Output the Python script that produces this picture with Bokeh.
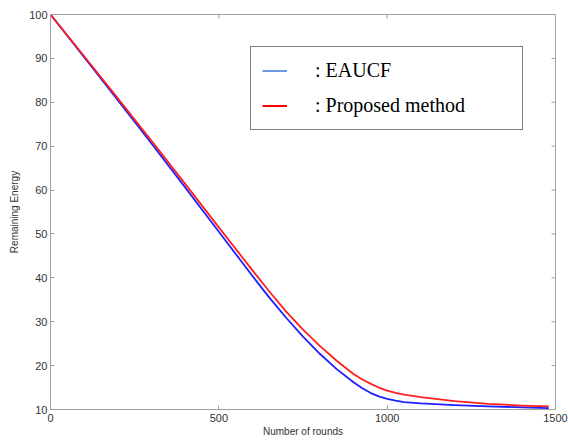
import math
from bokeh.plotting import figure
from bokeh.models import Legend, LegendItem, FixedTicker, Range1d
from bokeh.embed import file_html
from bokeh.resources import INLINE

rounds = [0, 100, 200, 300, 400, 500, 600, 650, 700, 750, 800, 850, 900, 925, 950, 975,
          1000, 1025, 1050, 1100, 1200, 1300, 1400, 1480]
eaucf = [100, 90.3, 80.5, 70.6, 60.6, 50.5, 40.4, 35.5, 30.9, 26.6, 22.7, 19.2, 16.2, 14.9, 13.8, 13.0,
         12.4, 12.0, 11.7, 11.4, 11.0, 10.7, 10.5, 10.3]
proposed = [100, 90.5, 80.9, 71.2, 61.4, 51.5, 41.7, 36.9, 32.3, 28.2, 24.5, 21.1, 18.1, 16.9, 15.9, 15.0,
            14.3, 13.8, 13.4, 12.8, 11.9, 11.3, 10.9, 10.7]
x_ticks = [0, 500, 1000, 1500]
y_ticks = [10, 20, 30, 40, 50, 60, 70, 80, 90, 100]
labels = [": EAUCF", ": Proposed method"]

X_MIN, X_MAX = 0, 1500
Y_MIN, Y_MAX = 10, 100
AX = "#a0a0a0"
TXT = "#333333"

p = figure(width=568, height=440, output_backend="svg", toolbar_location=None,
           x_range=Range1d(X_MIN, X_MAX), y_range=Range1d(Y_MIN, Y_MAX),
           min_border_left=50, min_border_top=14, min_border_right=13,
           min_border_bottom=31)
p.grid.visible = False
p.outline_line_color = AX
p.background_fill_color = "white"

for ax in (p.xaxis[0], p.yaxis[0]):
    ax.axis_line_color = AX
    ax.major_tick_line_color = AX
    ax.major_tick_in = 4
    ax.major_tick_out = 0
    ax.minor_tick_line_color = None
    ax.major_label_text_color = TXT
    ax.major_label_text_font = "Liberation Sans"
    ax.major_label_text_font_size = "11px"
    ax.axis_label_text_color = TXT
    ax.axis_label_text_font = "Liberation Sans"
    ax.axis_label_text_font_size = "10px"
    ax.axis_label_text_font_style = "normal"

p.xaxis[0].ticker = FixedTicker(ticks=x_ticks)
p.yaxis[0].ticker = FixedTicker(ticks=y_ticks)
p.xaxis[0].axis_label = "Number of rounds"
p.yaxis[0].axis_label = "Remaining Energy"
p.xaxis[0].major_label_standoff = 4
p.xaxis[0].axis_label_standoff = 1
p.yaxis[0].major_label_standoff = 3
p.yaxis[0].axis_label_standoff = 6

# mirrored inward ticks on the top and right edges of the box
p.ray(x=x_ticks, y=[Y_MAX] * len(x_ticks), length=4, length_units="screen",
      angle=-math.pi / 2, line_color=AX, line_width=1)
p.ray(x=[X_MAX] * len(y_ticks), y=y_ticks, length=4, length_units="screen",
      angle=math.pi, line_color=AX, line_width=1)

p.line(rounds, eaucf, line_color="#1f1fff", line_width=1.8, line_join="round")
p.line(rounds, proposed, line_color="#ff1f1f", line_width=1.8, line_join="round")

# legend samples (no data drawn, only legend glyphs)
nan = float("nan")
s1 = p.line([nan], [nan], line_color="#6a9be0", line_width=2)
s2 = p.line([nan], [nan], line_color="#ff0000", line_width=2)

legend = Legend(items=[LegendItem(label=labels[0], renderers=[s1]),
                       LegendItem(label=labels[1], renderers=[s2])],
                location="top_right", margin=32, padding=11, spacing=10,
                glyph_width=25, glyph_height=25, label_height=25,
                label_standoff=28, label_width=196,
                label_text_font="Liberation Serif", label_text_font_size="20px",
                label_text_color="black",
                border_line_color="black", border_line_width=1.5,
                background_fill_color="white", background_fill_alpha=1.0)
p.add_layout(legend, "center")

open("out.html", "w").write(file_html(p, INLINE))
